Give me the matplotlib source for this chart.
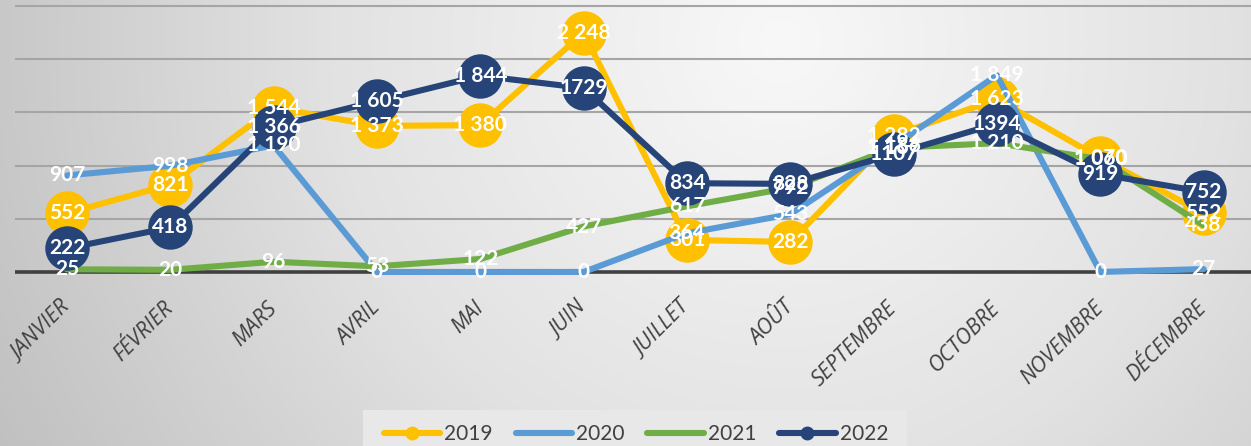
import numpy as np
import matplotlib
matplotlib.use("Agg")
import matplotlib.pyplot as plt
from matplotlib.colors import LinearSegmentedColormap
from matplotlib.lines import Line2D
from matplotlib.patches import Rectangle

# monthly values
months = ["JANVIER", "FÉVRIER", "MARS", "AVRIL", "MAI", "JUIN",
          "JUILLET", "AOÛT", "SEPTEMBRE", "OCTOBRE", "NOVEMBRE", "DÉCEMBRE"]
v2019 = [552, 821, 1544, 1373, 1380, 2248, 301, 282, 1282, 1623, 1070, 552]
v2020 = [907, 998, 1190, 0, 0, 0, 364, 543, 1186, 1849, 0, 27]
v2021 = [25, 20, 96, 53, 122, 427, 617, 792, 1167, 1210, 1060, 438]
v2022 = [222, 418, 1366, 1605, 1844, 1729, 834, 828, 1107, 1394, 919, 752]
years = ["2019", "2020", "2021", "2022"]

# labels as shown (Excel thousands separator with a space, one odd format)
lab2019 = ["552", "821", "1 544", "1 373", "1 380", "2 248", "301", "282",
           "1 282", "1 623", "1 070", "552"]
lab2020 = ["907", "998", "1 190", "0", "0", "0", "364", "543", "1 186",
           "1 849", "0", "27"]
lab2021 = ["25", "20", "96", "53", "122", "427", "617", "792", "1 167",
           "1 210", "1 060", "438"]
lab2022 = ["222", "418", "1 366", "1 605", "1 844", "1729", "834", "828",
           "1107", "1394", "919", "752"]

colors = ["#FFC000", "#5B9BD5", "#70AD47", "#264478"]
has_marker = [True, False, False, True]

W, H, DPI = 1251, 446, 100
fig = plt.figure(figsize=(W / DPI, H / DPI), dpi=DPI)

# radial grey gradient background
bg = fig.add_axes([0, 0, 1, 1], zorder=-10)
yy, xx = np.mgrid[0:H, 0:W]
d = np.sqrt(((xx - 780) / W) ** 2 + ((yy - 40) / W) ** 2)
d = np.clip(d / 0.72, 0, 1)
bgmap = LinearSegmentedColormap.from_list("bg", ["#f8f8f8", "#e2e2e2", "#bfbfbf"])
bg.imshow(d, cmap=bgmap, vmin=0, vmax=1, aspect="auto", extent=[0, W, H, 0])
bg.set_xlim(0, W)
bg.set_ylim(H, 0)
# legend panel
bg.add_patch(Rectangle((363, 410), 544, 40, facecolor="#e8e8e8",
                       edgecolor="none", zorder=5))
bg.axis("off")

ax = fig.add_axes([15.3 / W, 1 - 276 / H, 1240 / W, 276 / H])
ax.patch.set_alpha(0)
x = np.arange(len(months))
ax.set_xlim(-0.5, 11.5)
ax.set_ylim(-38, 2556)

for yv in [500, 1000, 1500, 2000, 2500]:
    ax.axhline(yv, color="#a5a5a5", lw=1.5, zorder=1)
ax.axhline(0, color="#404040", lw=2.6, zorder=2)

series = [v2019, v2020, v2021, v2022]
labels = [lab2019, lab2020, lab2021, lab2022]
for i, vals in enumerate(series):
    ax.plot(x, vals, color=colors[i], lw=4.4, solid_capstyle="round",
            marker="o" if has_marker[i] else None, markersize=32,
            markeredgewidth=0, zorder=3 + i, clip_on=False)

for i, vals in enumerate(series):
    for xi, v, t in zip(x, vals, labels[i]):
        ax.text(xi, v, t, ha="center", va="center", color="white",
                fontsize=15, fontweight="bold", family="Lato",
                zorder=10, clip_on=False)

ax.set_yticks([])
ax.set_xticks(x)
ax.set_xticklabels(months, rotation=45, ha="right", va="center",
                   rotation_mode="anchor", fontsize=15.5, style="italic",
                   family="Open Sans", color="#404040")
ax.tick_params(axis="x", length=0, pad=21)
for s in ax.spines.values():
    s.set_visible(False)

handles = [Line2D([], [], color=colors[i], lw=4.4, solid_capstyle="round",
                  marker="o" if has_marker[i] else None, markersize=9)
           for i in range(4)]
leg = fig.legend(handles, years, loc="center", bbox_to_anchor=(636 / W, 1 - 434 / H),
                 ncol=4, frameon=False, handlelength=2.7,
                 handletextpad=0.2, columnspacing=1.1, borderpad=0.0,
                 prop={"family": "Lato", "size": 15})
for t in leg.get_texts():
    t.set_color("#404040")

fig.savefig("out.png", dpi=DPI)
